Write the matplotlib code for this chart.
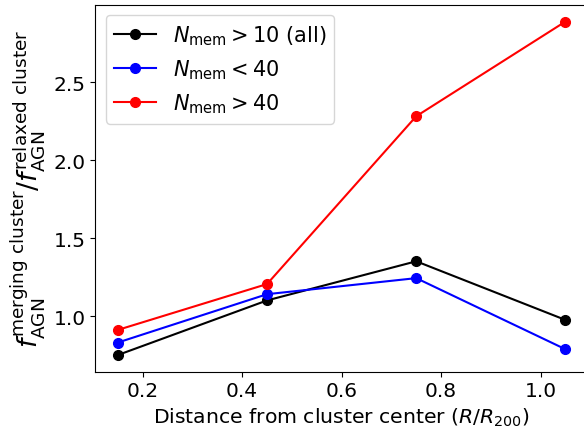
import matplotlib
matplotlib.use("Agg")
from matplotlib import pyplot as plt

# radial bins (R/R200) and merging/relaxed AGN fraction ratio
distancia = [0.15, 0.45, 0.75, 1.05]
todos = [0.751, 1.101, 1.352, 0.976]
menos40 = [0.831, 1.141, 1.244, 0.788]
mas40 = [0.912, 1.206, 2.282, 2.889]

etiquetas = [r"$N_{\rm mem}>10$ (all)", r"$N_{\rm mem}<40$", r"$N_{\rm mem}>40$"]

fig = plt.figure(figsize=(5.84, 4.31), dpi=100)
ax = fig.add_axes([0.1635, 0.1353, 0.843, 0.851])

ax.plot(distancia, todos, color="black", marker="o", ms=7, label=etiquetas[0])
ax.plot(distancia, menos40, color="blue", marker="o", ms=7, label=etiquetas[1])
ax.plot(distancia, mas40, color="red", marker="o", ms=7, label=etiquetas[2])

ax.set_xticks([0.2, 0.4, 0.6, 0.8, 1.0])
ax.set_yticks([1.0, 1.5, 2.0, 2.5])
ax.tick_params(labelsize=14.5)
ax.set_xlabel(r"Distance from cluster center ($R/R_{200}$)", fontsize=14.7)
ax.set_ylabel(r"$f_{\rm AGN}^{\rm merging\ cluster}/f_{\rm AGN}^{\rm relaxed\ cluster}$", fontsize=19)
ax.legend(loc="upper left", fontsize=15)

fig.savefig("out.png", dpi=100)
